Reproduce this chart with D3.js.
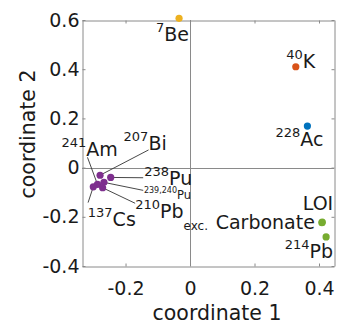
<!DOCTYPE html>
<html>
<head>
<meta charset="utf-8">
<script src="https://cdn.jsdelivr.net/npm/d3@7"></script>
<style>
  body { margin: 0; background: #fff; }
  text { font-family: "DejaVu Sans", sans-serif; fill: #1a1a1a; }
</style>
</head>
<body>
<div id="chart"></div>
<script>
// Ordination scores
const names = ['7Be', '40K', '228Ac', 'LOI', 'Carbonate', '214Pb', '241Am', '207Bi', '238Pu', '239,240Pu', '137Cs', '210Pb exc.'];
const coord1 = [-0.034, 0.328, 0.364, 0.410, 0.409, 0.422, -0.287, -0.279, -0.246, -0.267, -0.300, -0.271];
const coord2 = [0.607, 0.410, 0.169, -0.222, -0.224, -0.282, -0.068, -0.031, -0.040, -0.060, -0.078, -0.082];
const groups = ['be', 'k', 'ac', 'soil', 'soil', 'soil', 'fallout', 'fallout', 'fallout', 'fallout', 'fallout', 'fallout'];

// Label pieces: superscript, main text, subscript
const labelSup = ['7', '40', '228', '', '', '214', '241', '207', '238', '239,240', '137', '210'];
const labelMain = ['Be', 'K', 'Ac', 'LOI', 'Carbonate', 'Pb', 'Am', 'Bi', 'Pu', 'Pu', 'Cs', 'Pb'];
const labelSub = ['', '', '', '', '', '', '', '', '', '', '', 'exc.'];

const xTicks = [-0.2, 0, 0.2, 0.4];
const yTicks = [-0.4, -0.2, 0, 0.2, 0.4, 0.6];

const colors = { be: '#EDB120', k: '#D95319', ac: '#0072BD', soil: '#77AC30', fallout: '#7E2F8E' };

// label placement (pixel offsets from the point), anchor, leader-line start
const labelLayout = [
  { dx: -23, dy: 23, anchor: 'start' },
  { dx: -9.5, dy: 1, anchor: 'start' },
  { dx: -32, dy: 20, anchor: 'start' },
  { dx: 11, dy: -12.6, anchor: 'end' },
  { dx: -7, dy: 6.5, anchor: 'end' },
  { dx: 7, dy: 21, anchor: 'end' },
  { dx: -36, dy: -28.3, anchor: 'start', lead: [-10, -27] },
  { dx: 23.5, dy: -25.3, anchor: 'start', lead: [48.5, -25.3] },
  { dx: 33.5, dy: 8, anchor: 'start', lead: [32.5, 0.3] },
  { dx: 40, dy: 17, anchor: 'start', small: true, lead: [39.3, 8] },
  { dx: -5.5, dy: 39.2, anchor: 'start', lead: [-5.2, 15.8] },
  { dx: 32.5, dy: 30.5, anchor: 'start', lead: [32.5, 15.5] }
];

const width = 338, height = 323;
const plot = { left: 82, right: 334, top: 20, bottom: 266 };
const axisColor = '#8a8a8a';

const svg = d3.select('#chart').append('svg')
  .attr('width', width)
  .attr('height', height);

const x = d3.scaleLinear().domain([-0.335, 0.4465]).range([plot.left, plot.right]);
const y = d3.scaleLinear().domain([-0.4, 0.6]).range([plot.bottom, plot.top]);

const fmt = (d) => (d === 0 ? '0' : d3.format('.1f')(d).replace('−', '-'));

// zero lines
svg.append('line')
  .attr('x1', Math.round(x(0)) + 0.5).attr('x2', Math.round(x(0)) + 0.5)
  .attr('y1', plot.top).attr('y2', plot.bottom)
  .attr('stroke', axisColor);
svg.append('line')
  .attr('x1', plot.left).attr('x2', plot.right)
  .attr('y1', Math.round(y(0)) + 0.5).attr('y2', Math.round(y(0)) + 0.5)
  .attr('stroke', axisColor);

// box axes with inward ticks
const styleAxis = (g) => {
  g.selectAll('path, line').attr('stroke', axisColor);
  g.selectAll('text')
    .style('font-family', '"DejaVu Sans", sans-serif')
    .style('font-size', '19px')
    .attr('fill', '#1a1a1a');
};

svg.append('g')
  .attr('transform', `translate(0,${plot.bottom + 0.5})`)
  .call(d3.axisBottom(x).tickValues(xTicks).tickFormat(fmt).tickSize(-3).tickSizeOuter(0).tickPadding(15))
  .call(styleAxis);
svg.append('g')
  .attr('transform', `translate(0,${plot.top + 0.5})`)
  .call(d3.axisTop(x).tickValues(xTicks).tickFormat('').tickSize(-3).tickSizeOuter(0))
  .call(styleAxis);
svg.append('g')
  .attr('transform', `translate(${plot.left + 0.5},0)`)
  .call(d3.axisLeft(y).tickValues(yTicks).tickFormat(fmt).tickSize(-3).tickSizeOuter(0).tickPadding(3))
  .call(styleAxis);
svg.append('g')
  .attr('transform', `translate(${plot.right + 0.5},0)`)
  .call(d3.axisRight(y).tickValues(yTicks).tickFormat('').tickSize(-3).tickSizeOuter(0))
  .call(styleAxis);

// axis titles
svg.append('text')
  .attr('x', 217)
  .attr('y', 320)
  .attr('text-anchor', 'middle')
  .style('font-size', '20.5px')
  .text('coordinate 1');
svg.append('text')
  .attr('transform', `translate(35,134) rotate(-90)`)
  .attr('text-anchor', 'middle')
  .style('font-size', '20.5px')
  .text('coordinate 2');

const points = names.map((n, i) => ({
  name: n,
  px: x(coord1[i]),
  py: y(coord2[i]),
  color: colors[groups[i]],
  sup: labelSup[i],
  main: labelMain[i],
  sub: labelSub[i],
  layout: labelLayout[i]
}));

// leader lines
svg.selectAll('.leader')
  .data(points.filter((d) => d.layout.lead))
  .enter()
  .append('line')
  .attr('class', 'leader')
  .attr('x1', (d) => d.px + d.layout.lead[0])
  .attr('y1', (d) => d.py + d.layout.lead[1])
  .attr('x2', (d) => d.px)
  .attr('y2', (d) => d.py)
  .attr('stroke', '#333')
  .attr('stroke-width', 0.9);

// points
svg.selectAll('.dot')
  .data(points)
  .enter()
  .append('circle')
  .attr('cx', (d) => d.px)
  .attr('cy', (d) => d.py)
  .attr('r', 3.6)
  .attr('fill', (d) => d.color);

// labels
const label = svg.selectAll('.label')
  .data(points)
  .enter()
  .append('text')
  .attr('class', 'label')
  .attr('x', (d) => d.px + d.layout.dx)
  .attr('y', (d) => d.py + d.layout.dy)
  .attr('text-anchor', (d) => d.layout.anchor);

label.each(function (d) {
  const t = d3.select(this);
  const small = d.layout.small;
  const mainSize = small ? 11.5 : 19;
  const supSize = small ? 8 : 13;
  const supShift = small ? 6 : 9;
  if (d.sup) {
    t.append('tspan').style('font-size', supSize + 'px').attr('dy', -supShift).text(d.sup);
  }
  t.append('tspan').style('font-size', mainSize + 'px').attr('dy', d.sup ? supShift : 0).text(d.main);
  if (d.sub) {
    t.append('tspan').style('font-size', '12px').attr('dy', 12).text(d.sub);
  }
});
</script>
</body>
</html>
